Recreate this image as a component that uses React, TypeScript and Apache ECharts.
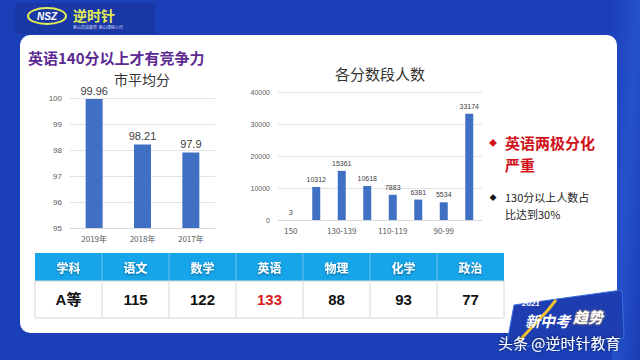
import React, { useEffect, useRef } from "react";
import * as echarts from "echarts";

const yearCats = ["2019年", "2018年", "2017年"];
const avgScores = [99.96, 98.21, 97.9];
const avgTicks = { min: 95, max: 100, interval: 1 };

const bandCats = ["150", "140-149", "130-139", "120-129", "110-119", "100-109", "90-99", "90以下"];
const bandCounts = [3, 10312, 15361, 10618, 7883, 6381, 5534, 33174];
const bandTicks = { min: 0, max: 40000, interval: 10000 };

const tableHeader = ["学科", "语文", "数学", "英语", "物理", "化学", "政治"];
const tableRow = ["A等", "115", "122", "133", "88", "93", "77"];
const highlightCol = 3;

const CJK = '"Noto Sans CJK SC", "Noto Sans", sans-serif';
const NUM = '"Liberation Sans", Arial, "Noto Sans CJK SC", sans-serif';
const BAR = "#4070c4";

export default function App() {
  const ref = useRef<HTMLDivElement>(null);
  useEffect(() => {
    const chart = echarts.init(ref.current!, null, { renderer: "svg" });

    const x0 = 35, colW = 67, hy = 253, hh = 28, ry = 281, rh = 37;
    const tableEls: any[] = [];
    tableEls.push({ type: "rect", shape: { x: x0, y: hy, width: colW * 7, height: hh }, style: { fill: "#17a5ea" } });
    tableEls.push({ type: "rect", shape: { x: x0, y: ry, width: colW * 7, height: rh }, style: { fill: "#ffffff", stroke: "#d6d6d6", lineWidth: 1 } });
    tableHeader.forEach((h, i) => {
      const cx = x0 + colW * i + colW / 2;
      if (i > 0) {
        tableEls.push({ type: "line", shape: { x1: x0 + colW * i, y1: ry, x2: x0 + colW * i, y2: ry + rh }, style: { stroke: "#d6d6d6", lineWidth: 1 } });
        tableEls.push({ type: "line", shape: { x1: x0 + colW * i, y1: hy, x2: x0 + colW * i, y2: hy + hh }, style: { stroke: "rgba(255,255,255,0.35)", lineWidth: 1 } });
      }
      tableEls.push({
        type: "text", x: cx, y: hy + hh / 2,
        style: { text: h, fill: "#ffffff", font: `bold 12px ${CJK}`, align: "center", verticalAlign: "middle", textShadowColor: "rgba(0,0,0,0.45)", textShadowBlur: 2, textShadowOffsetY: 1 },
      });
      tableEls.push({
        type: "text", x: cx, y: ry + rh / 2,
        style: { text: tableRow[i], fill: i === highlightCol ? "#d81e1e" : "#111111", font: `bold 15px ${NUM}`, align: "center", verticalAlign: "middle" },
      });
    });

    chart.setOption({
      animation: false,
      backgroundColor: "#1b3fb8",
      graphic: [
        { type: "rect", z: -10, shape: { x: 612, y: 0, width: 28, height: 360 }, style: { fill: new echarts.graphic.LinearGradient(0, 0, 1, 1, [{ offset: 0, color: "#1b3fb8" }, { offset: 0.5, color: "#2552cc" }, { offset: 1, color: "#1a3db4" }]) } },
        { type: "rect", z: -9, shape: { x: 20, y: 35, width: 597, height: 298, r: 10 }, style: { fill: "#ffffff" } },
        { type: "rect", z: -9, shape: { x: 15, y: 3, width: 140, height: 31 }, style: { fill: "#1a37a6" } },
        { type: "ellipse", shape: { cx: 47, cy: 16, rx: 19, ry: 8 }, style: { fill: "none", stroke: "#e3ee55", lineWidth: 2 } },
        { type: "text", x: 47, y: 16, style: { text: "NSZ", fill: "#ffffff", font: `bold italic 10px ${NUM}`, align: "center", verticalAlign: "middle" } },
        { type: "text", x: 73, y: 15, style: { text: "逆时针", fill: "#e3ee55", font: `bold 14px ${CJK}`, verticalAlign: "middle" } },
        { type: "text", x: 73, y: 27, style: { text: "霍山高效教育  霍山课程公司", fill: "#cfd8f5", font: `4px ${CJK}`, verticalAlign: "middle" } },
        { type: "text", x: 28, y: 57, style: { text: "英语140分以上才有竞争力", fill: "#5c2a92", font: `bold 15px ${CJK}`, verticalAlign: "middle" } },
        { type: "text", x: 142, y: 79, style: { text: "市平均分", fill: "#333333", font: `14px ${CJK}`, align: "center", verticalAlign: "middle" } },
        { type: "text", x: 380, y: 73, style: { text: "各分数段人数", fill: "#333333", font: `15px ${CJK}`, align: "center", verticalAlign: "middle" } },
        { type: "text", x: 493, y: 142, style: { text: "◆", fill: "#d0131b", font: `8px ${CJK}`, align: "center", verticalAlign: "middle" } },
        { type: "text", x: 505, y: 142, style: { text: "英语两极分化", fill: "#d0131b", font: `bold 15px ${CJK}`, verticalAlign: "middle" } },
        { type: "text", x: 505, y: 164, style: { text: "严重", fill: "#d0131b", font: `bold 15px ${CJK}`, verticalAlign: "middle" } },
        { type: "text", x: 493, y: 197, style: { text: "◆", fill: "#111111", font: `7px ${CJK}`, align: "center", verticalAlign: "middle" } },
        { type: "text", x: 505, y: 197, style: { text: "130分以上人数占", fill: "#222222", font: `11px ${CJK}`, verticalAlign: "middle" } },
        { type: "text", x: 505, y: 214, style: { text: "比达到30%", fill: "#222222", font: `11px ${CJK}`, verticalAlign: "middle" } },
        ...tableEls,
        { type: "polygon", shape: { points: [[514, 305], [622, 290], [624, 338], [506, 348]] }, style: { fill: "#1d3db0", stroke: "#3a6ee0", lineWidth: 1 } },
        { type: "polyline", shape: { points: [[520, 340], [548, 310], [556, 300]] }, style: { stroke: "#f2c230", lineWidth: 3, fill: "none" } },
        { type: "text", x: 522, y: 303, style: { text: "2021", fill: "#ffffff", font: `italic bold 8px ${NUM}`, verticalAlign: "middle" } },
        { type: "text", x: 525, y: 320, style: { text: "新中考", fill: "#ffffff", font: `italic bold 15px ${CJK}`, verticalAlign: "middle" } },
        { type: "text", x: 573, y: 316, style: { text: "趋势", fill: "#ffffff", font: `italic bold 15px ${CJK}`, verticalAlign: "middle", textShadowColor: "#e8b82a", textShadowBlur: 2 } },
        { type: "text", x: 498, y: 342, style: { text: "头条 @逆时针教育", fill: "#ffffff", font: `15px ${CJK}`, verticalAlign: "middle", textShadowColor: "rgba(0,0,0,0.6)", textShadowBlur: 3 } },
      ],
      grid: [
        { left: 70, top: 98, width: 145, height: 130 },
        { left: 278, top: 92, width: 204, height: 128 },
      ],
      xAxis: [
        {
          type: "category", gridIndex: 0, data: yearCats,
          axisLine: { lineStyle: { color: "#d9d9d9" } }, axisTick: { show: false },
          axisLabel: { color: "#595959", fontSize: 8, fontFamily: CJK, margin: 6 },
        },
        {
          type: "category", gridIndex: 1, data: bandCats,
          axisLine: { lineStyle: { color: "#d9d9d9" } }, axisTick: { show: false },
          axisLabel: { color: "#595959", fontSize: 8, fontFamily: CJK, margin: 6, interval: 1 },
        },
      ],
      yAxis: [
        {
          type: "value", gridIndex: 0, ...avgTicks,
          axisLine: { show: false }, axisTick: { show: false },
          splitLine: { lineStyle: { color: "#e3e3e3" } },
          axisLabel: { color: "#595959", fontSize: 8, fontFamily: NUM, margin: 8 },
        },
        {
          type: "value", gridIndex: 1, ...bandTicks,
          axisLine: { show: false }, axisTick: { show: false },
          splitLine: { lineStyle: { color: "#e3e3e3" } },
          axisLabel: { color: "#595959", fontSize: 7, fontFamily: NUM, margin: 8, formatter: (v: number) => String(v) },
        },
      ],
      series: [
        {
          type: "bar", xAxisIndex: 0, yAxisIndex: 0, data: avgScores, barWidth: 17,
          itemStyle: { color: BAR },
          label: { show: true, position: "top", color: "#404040", fontSize: 11, fontFamily: NUM, distance: 3 },
        },
        {
          type: "bar", xAxisIndex: 1, yAxisIndex: 1, data: bandCounts, barWidth: 8,
          itemStyle: { color: BAR },
          label: { show: true, position: "top", color: "#404040", fontSize: 7, fontFamily: NUM, distance: 4 },
        },
      ],
    });
    return () => chart.dispose();
  }, []);
  return <div ref={ref} style={{ position: "fixed", left: 0, top: 0, width: 640, height: 360 }} />;
}
